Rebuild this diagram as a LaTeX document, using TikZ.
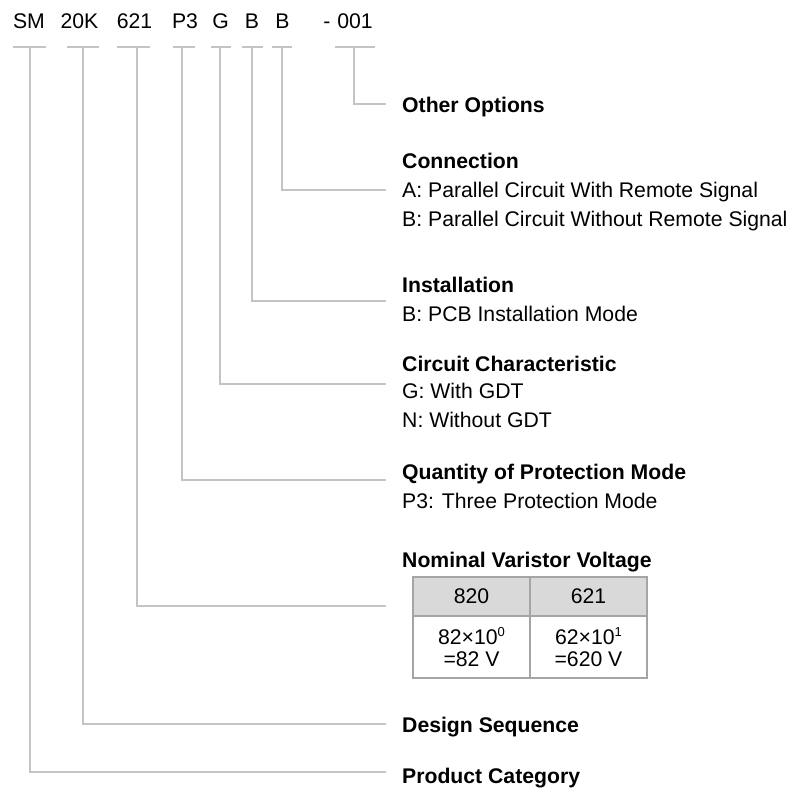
\documentclass[tikz,border=0pt]{standalone}
\usepackage{fontspec}
\setmainfont{Liberation Sans}
\definecolor{leadc}{RGB}{196,196,196}
\definecolor{tabc}{RGB}{165,165,165}
\definecolor{headc}{RGB}{217,217,217}
\newcommand{\supx}[1]{\raisebox{7.5pt}{\fontsize{13}{13}\selectfont #1}}
\begin{document}
\begin{tikzpicture}[x=1pt,y=-1pt,
  code/.style={font=\fontsize{21.2}{25}\selectfont, inner sep=0pt, anchor=base},
  ttl/.style={font=\fontsize{21.2}{25}\selectfont\bfseries, inner sep=0pt, anchor=base west},
  txt/.style={font=\fontsize{21.2}{25}\selectfont, inner sep=0pt, anchor=base west},
  lead/.style={draw=leadc, line width=1.6pt},
  cellh/.style={draw=tabc, line width=2pt, fill=headc, minimum width=117pt, minimum height=39pt, inner sep=0pt, font=\fontsize{21.2}{25}\selectfont},
  cellb/.style={draw=tabc, line width=2pt, minimum width=117pt, minimum height=62pt, inner sep=0pt, align=center, font=\fontsize{21.2}{22}\selectfont}]
\useasboundingbox (0,0) rectangle (792,790);

% header codes
\node[code] (hSM)  at (29,28)    {SM};
\node[code] (h20K) at (79.5,28)  {20K};
\node[code] (h621) at (134.5,28) {621};
\node[code] (hP3)  at (185,28)   {P3};
\node[code] (hG)   at (220.5,28) {G};
\node[code] (hB1)  at (252,28)   {B};
\node[code] (hB2)  at (282.5,28) {B};
\node[code] (hdash) at (327,28)  {-};
\node[code] (h001) at (355,28)   {001};

% labels
\node[ttl] (lOther) at (402,112) {Other Options};
\node[ttl] (lConn)  at (402,168) {Connection};
\node[txt] (lConnA) at (402,197) {A: Parallel Circuit With Remote Signal};
\node[txt] (lConnB) at (402,226) {B: Parallel Circuit Without Remote Signal};
\node[ttl] (lInst)  at (402,292) {Installation};
\node[txt] (lInstB) at (402,321) {B: PCB Installation Mode};
\node[ttl] (lCirc)  at (402,371) {Circuit Characteristic};
\node[txt] (lCircG) at (402,398) {G: With GDT};
\node[txt] (lCircN) at (402,427) {N: Without GDT};
\node[ttl] (lQty)   at (402,479) {Quantity of Protection Mode};
\node[txt] (lQtyP)  at (402,508) {P3: Three Protection Mode};
\node[ttl] (lNom)   at (402,567) {Nominal Varistor Voltage};
\node[ttl] (lDes)   at (402,732) {Design Sequence};
\node[ttl] (lProd)  at (402,783) {Product Category};

% table
\node[cellh] (c11) at (471.5,596.5) {820};
\node[cellh] (c12) at (588.5,596.5) {621};
\node[cellb] (c21) at (471.5,647) {82×10\supx{0}\\=82 V};
\node[cellb] (c22) at (588.5,647) {62×10\supx{1}\\=620 V};

% tick coordinates (top of each leader)
\coordinate (kSM)  at (30,47);
\coordinate (k20K) at (83,47);
\coordinate (k621) at (137,47);
\coordinate (kP3)  at (182,47);
\coordinate (kG)   at (220,47);
\coordinate (kB1)  at (252,47);
\coordinate (kB2)  at (282,47);
\coordinate (k001) at (354,47);
% leader end coordinates
\coordinate (eOther) at (386,104);
\coordinate (eConn)  at (386,190);
\coordinate (eInst)  at (386,301);
\coordinate (eCirc)  at (386,384);
\coordinate (eQty)   at (386,480);
\coordinate (eNom)   at (386,606);
\coordinate (eDes)   at (386,724);
\coordinate (eProd)  at (386,772);

% ticks
\draw[lead] (13,47) -- (46,47);
\draw[lead] (67,47) -- (99,47);
\draw[lead] (117,47) -- (150,47);
\draw[lead] (173,47) -- (195,47);
\draw[lead] (211,47) -- (231,47);
\draw[lead] (242,47) -- (263,47);
\draw[lead] (272,47) -- (292,47);
\draw[lead] (335,47) -- (375,47);

% leaders
\draw[lead] (kSM)  |- (eProd);
\draw[lead] (k20K) |- (eDes);
\draw[lead] (k621) |- (eNom);
\draw[lead] (kP3)  |- (eQty);
\draw[lead] (kG)   |- (eCirc);
\draw[lead] (kB1)  |- (eInst);
\draw[lead] (kB2)  |- (eConn);
\draw[lead] (k001) |- (eOther);
\end{tikzpicture}
\end{document}
